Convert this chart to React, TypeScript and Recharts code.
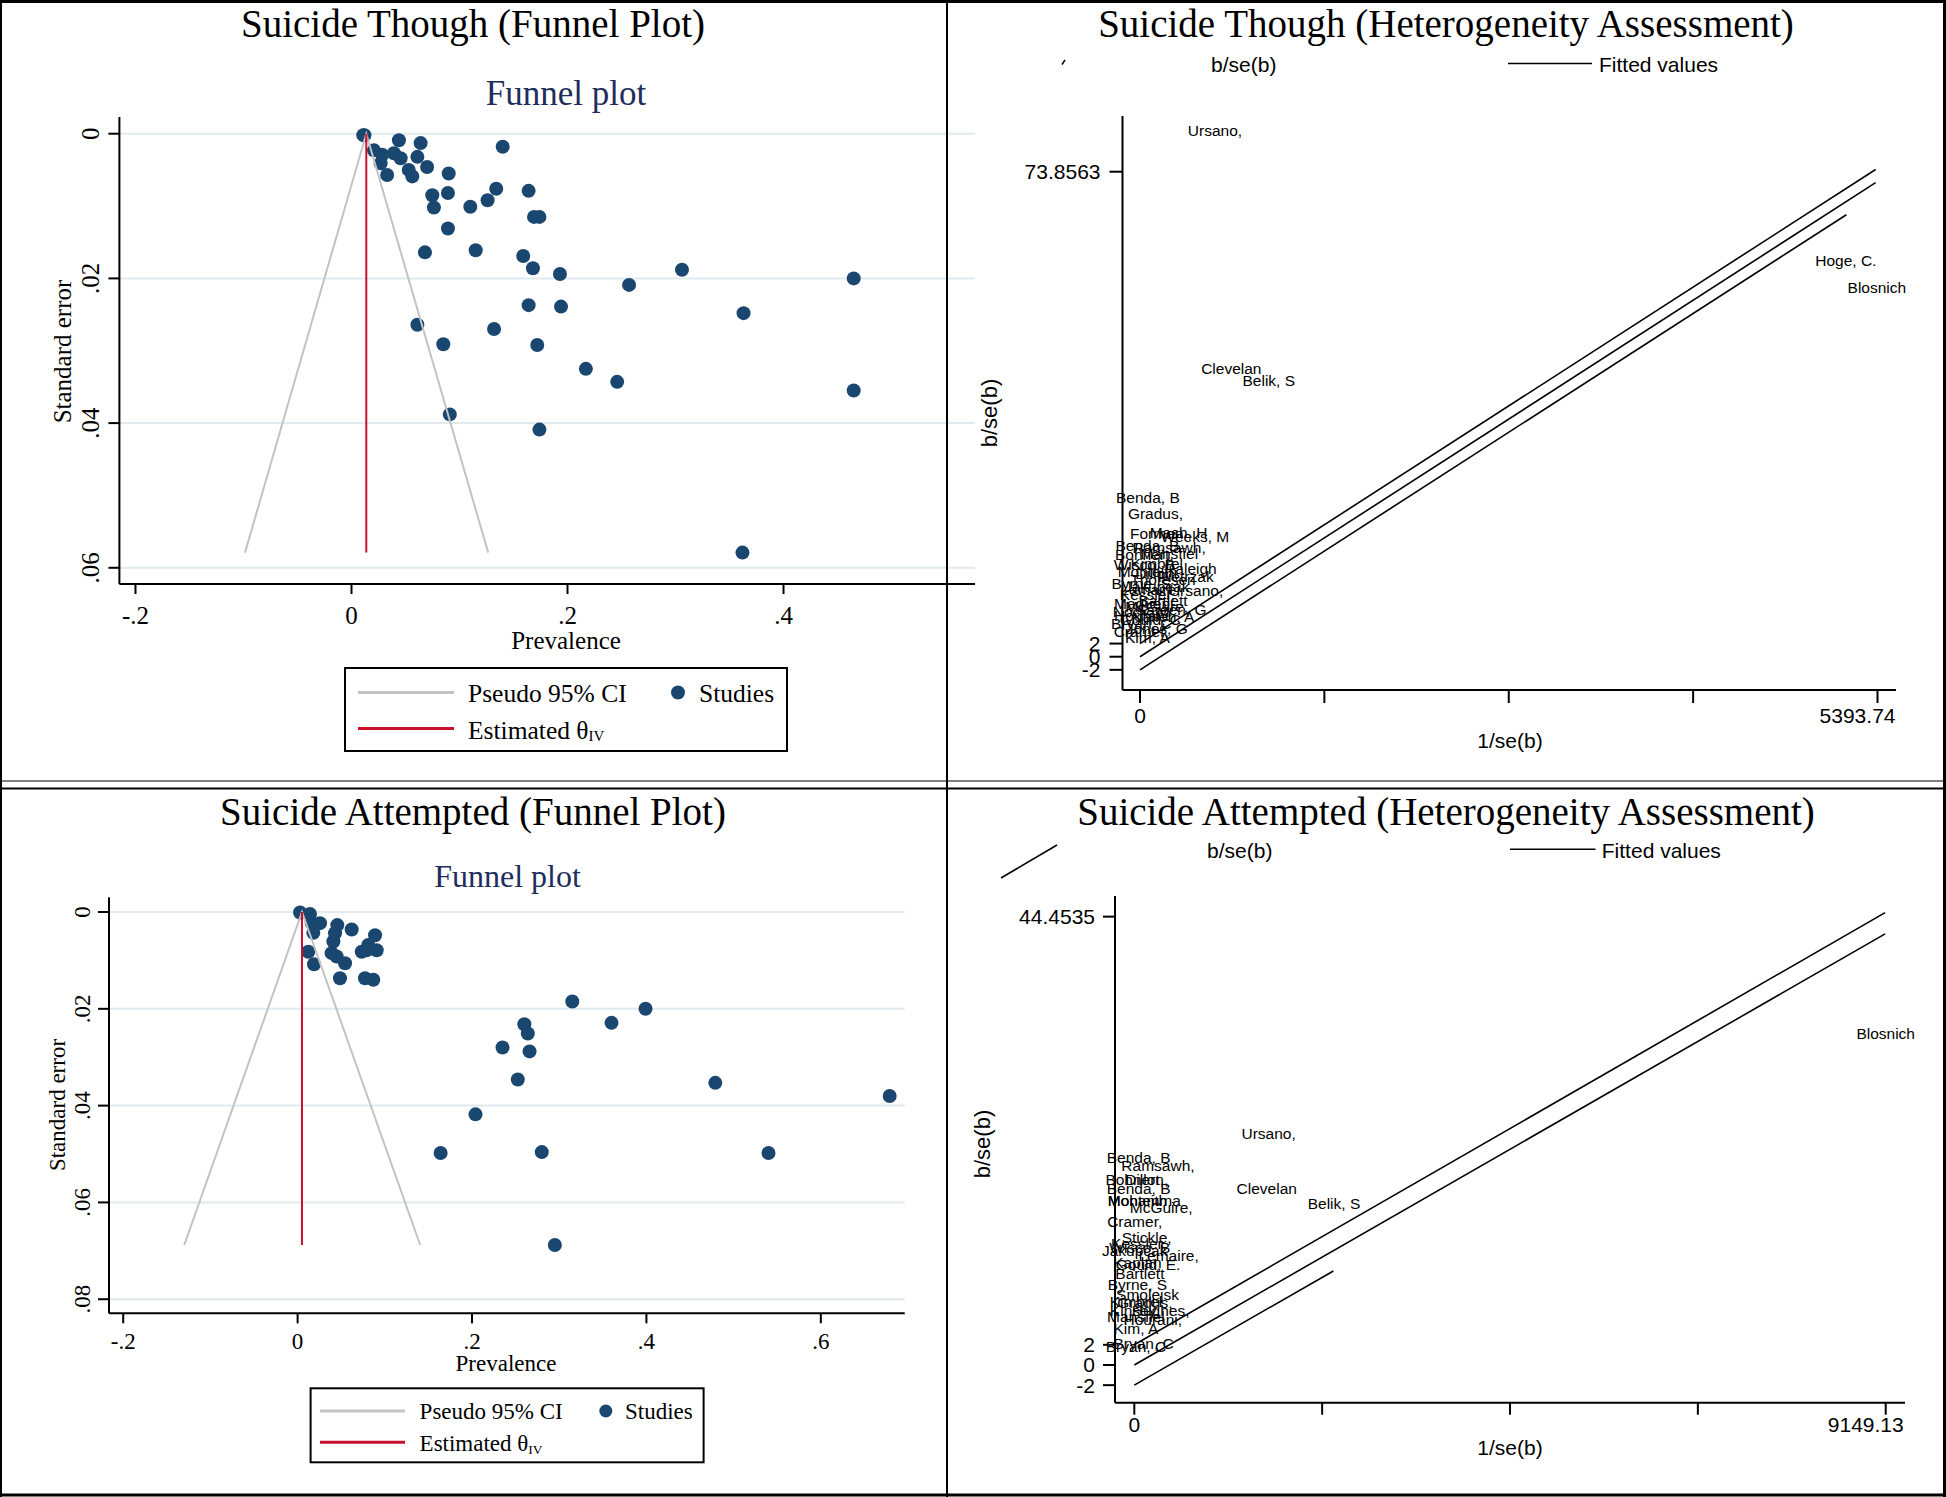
import React from 'react';
import { ComposedChart, Scatter, XAxis, YAxis, ReferenceLine } from 'recharts';

const CANVAS_W = 1946;
const CANVAS_H = 1497;
const SERIF = "'Liberation Serif', 'Times New Roman', Times, serif";
const SANS = "'Liberation Sans', Arial, Helvetica, sans-serif";
const NAVY = '#1a476f';
const CI_GRAY = '#c3c3c3';
const THETA_RED = '#c8102e';
const GRID_BLUE = '#e0eaef';
const SUB_NAVY = '#1e2d5c';

// ---------------- Suicide thought: funnel plot ----------------
const thoughtPrevalence = [
  0.0109, 0.012, 0.0208, 0.0285, 0.027, 0.033, 0.0439, 0.0393, 0.0455, 0.053,
  0.0563, 0.064, 0.061, 0.07, 0.09, 0.0748, 0.0763, 0.0893, 0.0893, 0.11,
  0.126, 0.134, 0.14, 0.164, 0.169, 0.174, 0.068, 0.115, 0.159, 0.168,
  0.193, 0.257, 0.306, 0.465, 0.164, 0.194, 0.363, 0.061, 0.132, 0.085,
  0.172, 0.217, 0.246, 0.465, 0.091, 0.174, 0.362,
];
const thoughtSE = [
  0.0002, 0.0002, 0.0023, 0.0029, 0.0041, 0.0057, 0.0009, 0.0027, 0.0034, 0.005,
  0.0059, 0.0013, 0.0032, 0.0046, 0.0055, 0.0085, 0.0102, 0.0082, 0.0131, 0.0101,
  0.0092, 0.0076, 0.0018, 0.0079, 0.0115, 0.0115, 0.0164, 0.0161, 0.0169, 0.0186,
  0.0194, 0.0209, 0.0188, 0.02, 0.0237, 0.0239, 0.0248, 0.0264, 0.027, 0.0291,
  0.0292, 0.0325, 0.0343, 0.0355, 0.0388, 0.0409, 0.0579,
];
const thoughtCiX = [-0.0986, 0.0137, 0.1266];
const thoughtCiSE = [0.0579, 0, 0.0579];
const thoughtThetaX = [0.0137, 0.0137];
const thoughtThetaSE = [0, 0.0579];
const thoughtXTicks = [-0.2, 0, 0.2, 0.4];
const thoughtXLabels = ['-.2', '0', '.2', '.4'];
const thoughtYTicks = [0, 0.02, 0.04, 0.06];
const thoughtYLabels = ['0', '.02', '.04', '.06'];

// ---------------- Suicide attempted: funnel plot ----------------
const attemptPrevalence = [
  0.0028, 0.0142, 0.0162, 0.0257, 0.018, 0.0123, 0.0188, 0.0455, 0.062, 0.0429,
  0.041, 0.039, 0.0448, 0.0544, 0.0486, 0.0773, 0.0868, 0.0888, 0.081, 0.0735,
  0.0907, 0.079, 0.315, 0.399, 0.26, 0.264, 0.36, 0.235, 0.266, 0.2525,
  0.479, 0.679, 0.204, 0.164, 0.28, 0.54, 0.295,
];
const attemptSE = [
  0.0001, 0.0004, 0.0023, 0.0023, 0.0043, 0.0082, 0.0108, 0.0027, 0.0036, 0.0044,
  0.0061, 0.0085, 0.0092, 0.0106, 0.0137, 0.0137, 0.014, 0.0048, 0.0068, 0.0082,
  0.0079, 0.0079, 0.0185, 0.02, 0.0232, 0.0251, 0.0229, 0.028, 0.0288, 0.0346,
  0.0353, 0.038, 0.0418, 0.0498, 0.0496, 0.0498, 0.0688,
];
const attemptCiX = [-0.13, 0.005, 0.1406];
const attemptCiSE = [0.0688, 0, 0.0688];
const attemptThetaX = [0.005, 0.005];
const attemptThetaSE = [0, 0.0688];
const attemptXTicks = [-0.2, 0, 0.2, 0.4, 0.6];
const attemptXLabels = ['-.2', '0', '.2', '.4', '.6'];
const attemptYTicks = [0, 0.02, 0.04, 0.06, 0.08];
const attemptYLabels = ['0', '.02', '.04', '.06', '.08'];

// ---------------- Suicide thought: Galbraith (heterogeneity) ----------------
const thoughtHetNames = [
  'Ursano,', 'Hoge, C.', 'Blosnich', 'Clevelan', 'Belik, S',
  'Benda, B', 'Gradus,', 'Forman', 'Mash, H', 'Weeks, M', 'Benda, B', 'Ramsawh,',
  'Mansfiel', 'Bohnert,', 'Kimbrel', 'Wisco, B', 'Raleigh', 'Monteith', 'Dillon,',
  'Pietrzak', 'Thoresen', 'Byrne, S', 'Jakupcak', 'Lemaire,', 'Ursano,', 'Kessler,',
  'Bartlett', 'Maguen,', 'McGuire,', 'Sareen, G', 'Nock, M', 'Hourani', 'Naifeh, A',
  'Gould, C', 'Bryan, C', 'Jones, G', 'Cramer,', 'Kim, A',
];
const thoughtHetPrecision = [
  548, 5162, 5389, 668, 942,
  58, 113, 122, 282, 402, 54, 213,
  214, 31, 122, 31, 369, 54, 122,
  334, 168, 9, 122, 76, 410, 54,
  168, 31, 122, 229, 9, 9, 168,
  76, 9, 122, 9, 54,
];
const thoughtHetZ = [
  80.2, 60.4, 56.25, 43.9, 42.1,
  24.3, 21.8, 18.7, 18.9, 18.3, 17.0, 16.7,
  15.7, 15.5, 14.2, 14.0, 13.5, 12.9, 12.7,
  12.2, 11.7, 11.2, 10.7, 10.2, 10.1, 9.4,
  8.6, 8.1, 7.6, 7.2, 6.9, 6.3, 6.1,
  5.6, 5.1, 4.3, 3.8, 3.0,
];
const thoughtFitX = [0, 5380];
const thoughtFitY = [0, 72.2];
const thoughtUpperX = [0, 5380];
const thoughtUpperY = [2, 74.2];
const thoughtLowerX = [0, 5166];
const thoughtLowerY = [-2, 67.3];
const thoughtHetXTicks = [0, 1348.4, 2696.9, 4045.3, 5393.74];
const thoughtHetXLabels = ['0', '', '', '', '5393.74'];
const thoughtHetYTicks = [-2, 0, 2, 73.8563];
const thoughtHetYLabels = ['-2', '0', '2', '73.8563'];

// ---------------- Suicide attempted: Galbraith (heterogeneity) ----------------
const attemptHetNames = [
  'Blosnich', 'Ursano,', 'Clevelan', 'Belik, S',
  'Benda, B', 'Ramsawh,', 'Bohnert,', 'Dillon,', 'Benda, B', 'Monteith', 'Mohamma',
  'McGuire,', 'Cramer,', 'Stickle,', 'Kessler,', 'Wisco, B', 'Jakupcak', 'Lemaire,',
  'Kaplan', 'Gould, E.', 'Bartlett', 'Byrne, S', 'Smolejsk', 'Kimbrel', 'Gradus,',
  'Hughes,', 'Kinsey,', 'Mansfiel', 'Hourani,', 'Kim, A', 'Bryan, C', 'Bryan, C',
];
const attemptHetPrecision = [
  9149, 1635, 1613, 2431,
  53, 288, 5, 151, 53, 39, 121,
  327, 5, 151, 53, 68, 5, 418,
  38, 167, 68, 38, 161, 20, 129,
  320, 5, 20, 225, 20, 113, 20,
];
const attemptHetZ = [
  32.9, 23.0, 17.5, 16.0,
  20.6, 19.8, 18.4, 18.4, 17.5, 16.3, 16.3,
  15.6, 14.2, 12.6, 12.0, 11.6, 11.4, 10.9,
  10.2, 10.0, 9.1, 8.0, 7.0, 6.3, 6.2,
  5.45, 5.4, 4.8, 4.5, 3.6, 2.1, 1.8,
];
const attemptFitX = [0, 9142];
const attemptFitY = [0, 42.74];
const attemptUpperX = [0, 9142];
const attemptUpperY = [2, 44.85];
const attemptLowerX = [0, 2424];
const attemptLowerY = [-2, 9.32];
const attemptHetXTicks = [0, 2287.3, 4574.6, 6861.8, 9149.13];
const attemptHetXLabels = ['0', '', '', '', '9149.13'];
const attemptHetYTicks = [-2, 0, 2, 44.4535];
const attemptHetYLabels = ['-2', '0', '2', '44.4535'];

// ---------------- helpers ----------------
const toPoints = (xs: number[], ys: number[]) => xs.map((x, i) => ({ x, y: ys[i] }));
const toLabels = (names: string[], xs: number[], ys: number[]) =>
  names.map((name, i) => ({ name, x: xs[i], y: ys[i] }));

const NoMarker = () => <g />;
const NavyDot = (p: any) => <circle cx={p.cx} cy={p.cy} r={7} fill={NAVY} />;
const StudyLabel = (p: any) => (
  <text x={p.cx} y={p.cy} textAnchor="middle" dominantBaseline="central" fontFamily={SANS} fontSize={15.5} fill="#000">
    {(p.payload && p.payload.name) || p.name}
  </text>
);

const AXIS_LINE = { stroke: '#000', strokeWidth: 2 };

type Margin = { top: number; right: number; bottom: number; left: number };

type FunnelCfg = {
  margin: Margin;
  xDomain: [number, number];
  yDomain: [number, number];
  xTicks: number[];
  xLabels: string[];
  yTicks: number[];
  yLabels: string[];
  font: number;
  xDy: number;
  yDx: number;
  studies: { x: number; y: number }[];
  ci: { x: number; y: number }[];
  theta: { x: number; y: number }[];
};

function FunnelChart({ c }: { c: FunnelCfg }) {
  const xTick = (p: any) => {
    const i = p.index ?? c.xTicks.indexOf(p.payload.value);
    return (
      <text x={p.x} y={p.y + c.xDy} textAnchor="middle" dominantBaseline="central" fontFamily={SERIF} fontSize={c.font} fill="#000">
        {c.xLabels[i]}
      </text>
    );
  };
  const yTick = (p: any) => {
    const i = p.index ?? c.yTicks.indexOf(p.payload.value);
    const cx = p.x - c.yDx;
    const cy = p.y;
    return (
      <text x={cx} y={cy} transform={`rotate(-90 ${cx} ${cy})`} textAnchor="middle" dominantBaseline="central" fontFamily={SERIF} fontSize={c.font} fill="#000">
        {c.yLabels[i]}
      </text>
    );
  };
  return (
    <div style={{ position: 'absolute', left: 0, top: 0 }}>
      <ComposedChart width={CANVAS_W} height={CANVAS_H} margin={c.margin}>
        <XAxis type="number" dataKey="x" domain={c.xDomain} allowDataOverflow ticks={c.xTicks} interval={0}
          height={40} tickSize={10} tickMargin={0} axisLine={AXIS_LINE} tickLine={AXIS_LINE} tick={xTick} />
        <YAxis type="number" dataKey="y" domain={c.yDomain} reversed allowDataOverflow ticks={c.yTicks} interval={0}
          width={60} tickSize={11} tickMargin={0} axisLine={AXIS_LINE} tickLine={AXIS_LINE} tick={yTick} />
        {c.yTicks.map((v) => (
          <ReferenceLine key={v} y={v} stroke={GRID_BLUE} strokeWidth={2} />
        ))}
        <Scatter data={c.studies} shape={NavyDot} isAnimationActive={false} />
        <Scatter data={c.ci} shape={NoMarker} line={{ stroke: CI_GRAY, strokeWidth: 2 }} isAnimationActive={false} />
        <Scatter data={c.theta} shape={NoMarker} line={{ stroke: THETA_RED, strokeWidth: 2 }} isAnimationActive={false} />
      </ComposedChart>
    </div>
  );
}

type HetCfg = {
  margin: Margin;
  xDomain: [number, number];
  yDomain: [number, number];
  xTicks: number[];
  xLabels: string[];
  yTicks: number[];
  yLabels: string[];
  xDy: number;
  yDx: number;
  xTickSize: number;
  yTickSize: number;
  labels: { name: string; x: number; y: number }[];
  fit: { x: number; y: number }[];
  upper: { x: number; y: number }[];
  lower: { x: number; y: number }[];
};

function HetChart({ c }: { c: HetCfg }) {
  const last = c.xTicks.length - 1;
  const xTick = (p: any) => {
    const i = p.index ?? c.xTicks.indexOf(p.payload.value);
    const label = c.xLabels[i];
    if (!label) return <g />;
    const isLast = i === last;
    return (
      <text x={isLast ? p.x + 18 : p.x} y={p.y + c.xDy} textAnchor={isLast ? 'end' : 'middle'} dominantBaseline="central" fontFamily={SANS} fontSize={21} fill="#000">
        {label}
      </text>
    );
  };
  const yTick = (p: any) => {
    const i = p.index ?? c.yTicks.indexOf(p.payload.value);
    return (
      <text x={p.x - c.yDx} y={p.y} textAnchor="end" dominantBaseline="central" fontFamily={SANS} fontSize={21} fill="#000">
        {c.yLabels[i]}
      </text>
    );
  };
  const fitLine = { stroke: '#000', strokeWidth: 1.6 };
  return (
    <div style={{ position: 'absolute', left: 0, top: 0 }}>
      <ComposedChart width={CANVAS_W} height={CANVAS_H} margin={c.margin}>
        <XAxis type="number" dataKey="x" domain={c.xDomain} ticks={c.xTicks} interval={0}
          height={40} tickSize={c.xTickSize} tickMargin={0} axisLine={AXIS_LINE} tickLine={AXIS_LINE} tick={xTick} />
        <YAxis type="number" dataKey="y" domain={c.yDomain} ticks={c.yTicks} interval={0}
          width={100} tickSize={c.yTickSize} tickMargin={0} axisLine={AXIS_LINE} tickLine={AXIS_LINE} tick={yTick} />
        <Scatter data={c.labels} shape={StudyLabel} isAnimationActive={false} />
        <Scatter data={c.upper} shape={NoMarker} line={fitLine} isAnimationActive={false} />
        <Scatter data={c.fit} shape={NoMarker} line={fitLine} isAnimationActive={false} />
        <Scatter data={c.lower} shape={NoMarker} line={fitLine} isAnimationActive={false} />
      </ComposedChart>
    </div>
  );
}

const thoughtFunnel: FunnelCfg = {
  margin: { top: 117, right: 971, bottom: 873, left: 59.4 },
  xDomain: [-0.2149, 0.5773],
  yDomain: [-0.00231, 0.06224],
  xTicks: thoughtXTicks,
  xLabels: thoughtXLabels,
  yTicks: thoughtYTicks,
  yLabels: thoughtYLabels,
  font: 25,
  xDy: 21,
  yDx: 18,
  studies: toPoints(thoughtPrevalence, thoughtSE),
  ci: toPoints(thoughtCiX, thoughtCiSE),
  theta: toPoints(thoughtThetaX, thoughtThetaSE),
};

const attemptFunnel: FunnelCfg = {
  margin: { top: 897.3, right: 1041.3, bottom: 143.7, left: 49 },
  xDomain: [-0.2163, 0.6962],
  yDomain: [-0.00304, 0.08291],
  xTicks: attemptXTicks,
  xLabels: attemptXLabels,
  yTicks: attemptYTicks,
  yLabels: attemptYLabels,
  font: 23,
  xDy: 18,
  yDx: 15,
  studies: toPoints(attemptPrevalence, attemptSE),
  ci: toPoints(attemptCiX, attemptCiSE),
  theta: toPoints(attemptThetaX, attemptThetaSE),
};

const thoughtHet: HetCfg = {
  margin: { top: 116, right: 50, bottom: 767, left: 1022.5 },
  xDomain: [-128, 5529],
  yDomain: [-5.07, 82.34],
  xTicks: thoughtHetXTicks,
  xLabels: thoughtHetXLabels,
  yTicks: thoughtHetYTicks,
  yLabels: thoughtHetYLabels,
  xDy: 12,
  yDx: 9,
  xTickSize: 13,
  yTickSize: 13,
  labels: toLabels(thoughtHetNames, thoughtHetPrecision, thoughtHetZ),
  fit: toPoints(thoughtFitX, thoughtFitY),
  upper: toPoints(thoughtUpperX, thoughtUpperY),
  lower: toPoints(thoughtLowerX, thoughtLowerY),
};

const attemptHet: HetCfg = {
  margin: { top: 896, right: 41, bottom: 54.3, left: 1015 },
  xDomain: [-235, 9384],
  yDomain: [-3.74, 46.5],
  xTicks: attemptHetXTicks,
  xLabels: attemptHetXLabels,
  yTicks: attemptHetYTicks,
  yLabels: attemptHetYLabels,
  xDy: 10,
  yDx: 8,
  xTickSize: 12,
  yTickSize: 12,
  labels: toLabels(attemptHetNames, attemptHetPrecision, attemptHetZ),
  fit: toPoints(attemptFitX, attemptFitY),
  upper: toPoints(attemptUpperX, attemptUpperY),
  lower: toPoints(attemptLowerX, attemptLowerY),
};

function Overlay() {
  const t = (x: number, y: number, s: string, size: number, family: string, extra: any = {}) => (
    <text x={x} y={y} fontSize={size} fontFamily={family} dominantBaseline="central" fill="#000" {...extra}>
      {s}
    </text>
  );
  return (
    <svg width={CANVAS_W} height={CANVAS_H} style={{ position: 'absolute', left: 0, top: 0, pointerEvents: 'none' }}>
      {/* panel titles */}
      {t(473, 23, 'Suicide Though (Funnel Plot)', 39, SERIF, { textAnchor: 'middle' })}
      {t(1446, 23, 'Suicide Though (Heterogeneity Assessment)', 39, SERIF, { textAnchor: 'middle' })}
      {t(473, 811, 'Suicide Attempted (Funnel Plot)', 39, SERIF, { textAnchor: 'middle' })}
      {t(1446, 811, 'Suicide Attempted (Heterogeneity Assessment)', 39, SERIF, { textAnchor: 'middle' })}
      {/* funnel subtitles */}
      {t(566, 93, 'Funnel plot', 35, SERIF, { textAnchor: 'middle', fill: SUB_NAVY })}
      {t(507.5, 875.5, 'Funnel plot', 32, SERIF, { textAnchor: 'middle', fill: SUB_NAVY })}
      {/* funnel axis titles */}
      {t(566, 640, 'Prevalence', 25, SERIF, { textAnchor: 'middle' })}
      {t(62, 351.5, 'Standard error', 25, SERIF, { textAnchor: 'middle', transform: 'rotate(-90 62 351.5)' })}
      {t(506, 1363, 'Prevalence', 23, SERIF, { textAnchor: 'middle' })}
      {t(57, 1105, 'Standard error', 23, SERIF, { textAnchor: 'middle', transform: 'rotate(-90 57 1105)' })}
      {/* heterogeneity axis titles */}
      {t(1510, 740, '1/se(b)', 21, SANS, { textAnchor: 'middle' })}
      {t(989, 413, 'b/se(b)', 22, SANS, { textAnchor: 'middle', transform: 'rotate(-90 989 413)' })}
      {t(1510, 1447.5, '1/se(b)', 21, SANS, { textAnchor: 'middle' })}
      {t(982.5, 1144, 'b/se(b)', 22, SANS, { textAnchor: 'middle', transform: 'rotate(-90 982.5 1144)' })}
      {/* heterogeneity legends */}
      <line x1={1062} y1={64.5} x2={1065} y2={60} stroke="#000" strokeWidth={1.5} />
      {t(1243.8, 64, 'b/se(b)', 21, SANS, { textAnchor: 'middle' })}
      <line x1={1508} y1={63.5} x2={1592} y2={63.5} stroke="#000" strokeWidth={1.6} />
      {t(1599, 64, 'Fitted values', 21, SANS)}
      <line x1={1001} y1={878} x2={1057} y2={845} stroke="#000" strokeWidth={1.6} />
      {t(1239.8, 850, 'b/se(b)', 21, SANS, { textAnchor: 'middle' })}
      <line x1={1510} y1={849.3} x2={1595.5} y2={849.3} stroke="#000" strokeWidth={1.6} />
      {t(1601.8, 850, 'Fitted values', 21, SANS)}
      {/* funnel legend: thought */}
      <rect x={345} y={668} width={442} height={83} fill="#fff" stroke="#000" strokeWidth={2} />
      <line x1={358} y1={692.5} x2={454} y2={692.5} stroke={CI_GRAY} strokeWidth={3} />
      {t(468, 693, 'Pseudo 95% CI', 25.5, SERIF)}
      <circle cx={678} cy={692.5} r={7} fill={NAVY} />
      {t(699, 693, 'Studies', 25.5, SERIF)}
      <line x1={358} y1={728.5} x2={454} y2={728.5} stroke={THETA_RED} strokeWidth={3} />
      <text x={468} y={730} fontSize={25.5} fontFamily={SERIF} dominantBaseline="central" fill="#000">
        Estimated θ<tspan fontSize={15} dy={6}>IV</tspan>
      </text>
      {/* funnel legend: attempted */}
      <rect x={310.6} y={1388.3} width={393} height={74} fill="#fff" stroke="#000" strokeWidth={2} />
      <line x1={320} y1={1411} x2={405} y2={1411} stroke={CI_GRAY} strokeWidth={3} />
      {t(419.6, 1411.5, 'Pseudo 95% CI', 23, SERIF)}
      <circle cx={605.8} cy={1411} r={6.5} fill={NAVY} />
      {t(625, 1411.5, 'Studies', 23, SERIF)}
      <line x1={320} y1={1442.3} x2={405} y2={1442.3} stroke={THETA_RED} strokeWidth={3} />
      <text x={419.6} y={1443.5} fontSize={23} fontFamily={SERIF} dominantBaseline="central" fill="#000">
        Estimated θ<tspan fontSize={13.5} dy={5}>IV</tspan>
      </text>
      {/* panel frames */}
      <line x1={0} y1={1.5} x2={CANVAS_W} y2={1.5} stroke="#000" strokeWidth={3} />
      <line x1={1} y1={0} x2={1} y2={CANVAS_H} stroke="#000" strokeWidth={2} />
      <line x1={1944.5} y1={0} x2={1944.5} y2={CANVAS_H} stroke="#000" strokeWidth={3} />
      <line x1={0} y1={1495} x2={CANVAS_W} y2={1495} stroke="#000" strokeWidth={3} />
      <line x1={947} y1={0} x2={947} y2={CANVAS_H} stroke="#000" strokeWidth={2} />
      <line x1={0} y1={781} x2={CANVAS_W} y2={781} stroke="#000" strokeWidth={1.2} />
      <line x1={0} y1={788.5} x2={CANVAS_W} y2={788.5} stroke="#000" strokeWidth={2} />
    </svg>
  );
}

export default function App() {
  return (
    <div style={{ position: 'absolute', left: 0, top: 0, width: CANVAS_W, height: CANVAS_H, background: '#fff', overflow: 'hidden' }}>
      <FunnelChart c={thoughtFunnel} />
      <FunnelChart c={attemptFunnel} />
      <HetChart c={thoughtHet} />
      <HetChart c={attemptHet} />
      <Overlay />
    </div>
  );
}
